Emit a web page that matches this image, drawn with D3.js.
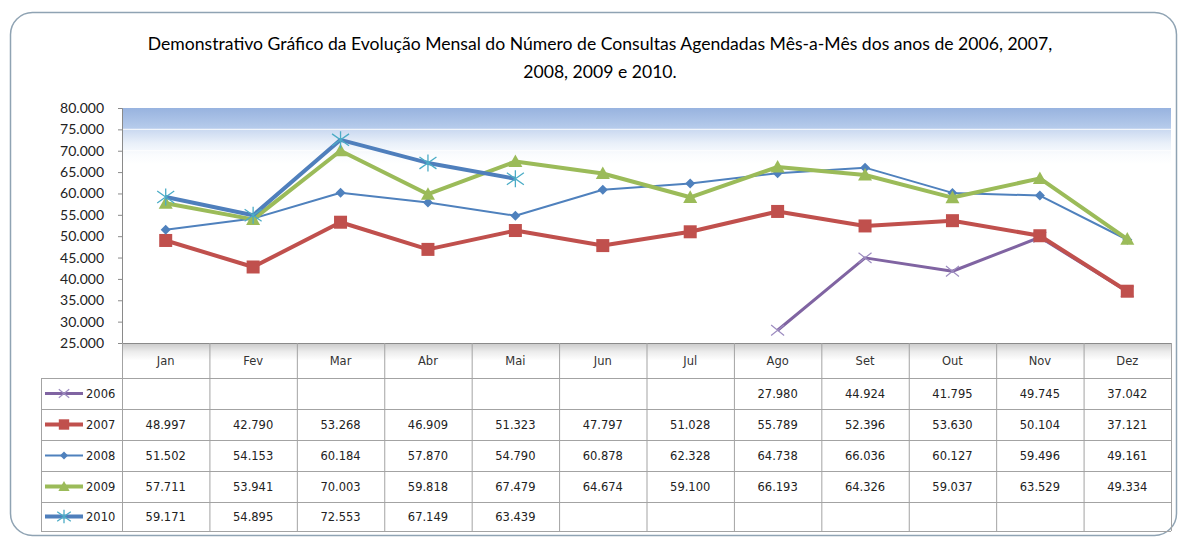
<!DOCTYPE html>
<html>
<head>
<meta charset="utf-8">
<script src="https://cdn.jsdelivr.net/npm/d3@7"></script>
<style>
  html,body{margin:0;padding:0;background:#fff;}
  svg{display:block;}
</style>
</head>
<body>
<div id="chart"></div>
<script>
// dados
const months = ['Jan','Fev','Mar','Abr','Mai','Jun','Jul','Ago','Set','Out','Nov','Dez'];
const years = ['2006','2007','2008','2009','2010'];
const v2006 = [null,null,null,null,null,null,null,27980,44924,41795,49745,37042];
const v2007 = [48997,42790,53268,46909,51323,47797,51028,55789,52396,53630,50104,37121];
const v2008 = [51502,54153,60184,57870,54790,60878,62328,64738,66036,60127,59496,49161];
const v2009 = [57711,53941,70003,59818,67479,64674,59100,66193,64326,59037,63529,49334];
const v2010 = [59171,54895,72553,67149,63439,null,null,null,null,null,null,null];
const yTicks = [25000,30000,35000,40000,45000,50000,55000,60000,65000,70000,75000,80000];
const titleLines = ['Demonstrativo Gráfico da Evolução Mensal do Número de Consultas Agendadas Mês-a-Mês dos anos de 2006, 2007,',
                    '2008, 2009 e 2010.'];

const W=1181, H=538;
const pt = d3.formatLocale({decimal:',',thousands:'.',grouping:[3],currency:['R$','']}).format(',d');

// estilos das séries
const series = [
  {name:'2006', vals:v2006, line:'#8064a2', lw:3,   mk:'x',   mc:'#9d8cc0', ms:13},
  {name:'2007', vals:v2007, line:'#c0504d', lw:4,   mk:'sq',  mc:'#c0504d', ms:13},
  {name:'2008', vals:v2008, line:'#4f81bd', lw:2,   mk:'dia', mc:'#4f81bd', ms:10},
  {name:'2009', vals:v2009, line:'#9bbb59', lw:4,   mk:'tri', mc:'#9bbb59', ms:14},
  {name:'2010', vals:v2010, line:'#4f7fbc', lw:4,   mk:'star',mc:'#4bacc6', ms:17}
];

const plot = {l:122, r:1171, t:108, b:343};
const rowH = [343,378,409,440,471,502,531];
const legL = 41;

const x = d3.scaleBand().domain(months).range([plot.l, plot.r]);
const y = d3.scaleLinear().domain([25000,80000]).range([plot.b, plot.t]);

const svg = d3.select('#chart').append('svg').attr('width',W).attr('height',H);
const defs = svg.append('defs');

const bg = defs.append('linearGradient').attr('id','bg').attr('x1',0).attr('y1',0).attr('x2',0).attr('y2',1);
[[0,'#98b3df'],[0.085,'#b6cbeb'],[0.09,'#c9d8f0'],[0.15,'#e9f0f9'],[0.2,'#fafcfe'],[0.24,'#ffffff'],[1,'#ffffff']]
  .forEach(s=>bg.append('stop').attr('offset',s[0]).attr('stop-color',s[1]));
const hd = defs.append('linearGradient').attr('id','hd').attr('x1',0).attr('y1',0).attr('x2',0).attr('y2',1);
[[0,'#c9c9c9'],[0.25,'#ececec'],[0.5,'#ffffff'],[1,'#ffffff']]
  .forEach(s=>hd.append('stop').attr('offset',s[0]).attr('stop-color',s[1]));

// moldura
svg.append('rect').attr('x',10.5).attr('y',12.5).attr('width',1166).attr('height',523).attr('rx',22)
  .attr('fill','#fff').attr('stroke','#8fa3b3').attr('stroke-width',1.5);

// título
svg.append('g').selectAll('text').data(titleLines).join('text')
  .attr('x',600).attr('y',(d,i)=>50+i*28).attr('text-anchor','middle')
  .style('font-family','Lato, "Open Sans", sans-serif').style('font-size','17.6px').attr('fill','#000')
  .text(d=>d);

// fundo da área de plotagem
svg.append('rect').attr('x',plot.l).attr('y',plot.t).attr('width',plot.r-plot.l).attr('height',plot.b-plot.t)
  .attr('fill','url(#bg)');
svg.append('g').selectAll('line').data(yTicks.slice(1,-1)).join('line')
  .attr('x1',plot.l).attr('x2',plot.r).attr('y1',d=>y(d)).attr('y2',d=>y(d))
  .attr('stroke','#fff').attr('stroke-width',1).attr('stroke-opacity',0.85);

// eixo y
const yAxis = svg.append('g').attr('transform',`translate(${plot.l},0)`)
  .call(d3.axisLeft(y).tickValues(yTicks).tickFormat(pt).tickSize(4).tickPadding(14));
yAxis.select('.domain').attr('stroke','#8a8a8a');
yAxis.selectAll('.tick line').attr('stroke','#8a8a8a');
yAxis.selectAll('text').style('font-family','Lato, sans-serif').style('font-size','14px').attr('fill','#222');

// tabela
const tbl = svg.append('g');
tbl.append('rect').attr('x',plot.l).attr('y',rowH[0]).attr('width',plot.r-plot.l).attr('height',rowH[1]-rowH[0])
  .attr('fill','url(#hd)');
const gridC = '#a3a3a3';
// linhas horizontais
tbl.selectAll('line.h').data(rowH).join('line').attr('class','h')
  .attr('x1',(d,i)=>i<1?plot.l:legL).attr('x2',plot.r).attr('y1',d=>d+0.5).attr('y2',d=>d+0.5)
  .attr('stroke',(d,i)=>i===0?'#8a8a8a':gridC).attr('stroke-width',1);
// linhas verticais
const vx = months.map(m=>x(m)).concat([plot.r]);
tbl.selectAll('line.v').data(vx).join('line').attr('class','v')
  .attr('x1',d=>d+0.5).attr('x2',d=>d+0.5).attr('y1',rowH[0]).attr('y2',rowH[6])
  .attr('stroke',gridC);
tbl.append('line').attr('x1',legL+0.5).attr('x2',legL+0.5).attr('y1',rowH[1]).attr('y2',rowH[6]).attr('stroke',gridC);

const cellFont = 'DejaVu Sans, Verdana, sans-serif';
tbl.selectAll('text.m').data(months).join('text').attr('class','m')
  .attr('x',d=>x(d)+x.bandwidth()/2).attr('y',(rowH[0]+rowH[1])/2+4).attr('text-anchor','middle')
  .style('font-family',cellFont).style('font-size','11.5px').attr('fill','#333').text(d=>d);

series.forEach((s,si)=>{
  const cy = (rowH[si+1]+rowH[si+2])/2 + 4;
  tbl.append('g').selectAll('text').data(s.vals).join('text')
    .attr('x',(d,i)=>x(months[i])+x.bandwidth()/2).attr('y',cy).attr('text-anchor','middle')
    .style('font-family',cellFont).style('font-size','11.5px').attr('fill','#222')
    .text(d=>d==null?'':pt(d));
  tbl.append('text').attr('x',86).attr('y',cy).style('font-family',cellFont).style('font-size','11.5px')
    .attr('fill','#222').text(s.name);
});

// marcadores
function marker(g, s, cx, cy, scale){
  const r = s.ms/2*scale;
  if(s.mk==='sq'){
    g.append('rect').attr('x',cx-r).attr('y',cy-r).attr('width',2*r).attr('height',2*r).attr('fill',s.mc);
  } else if(s.mk==='dia'){
    g.append('path').attr('d',`M${cx},${cy-r}L${cx+r},${cy}L${cx},${cy+r}L${cx-r},${cy}Z`).attr('fill',s.mc);
  } else if(s.mk==='tri'){
    g.append('path').attr('d',`M${cx},${cy-r}L${cx+r},${cy+r*0.8}L${cx-r},${cy+r*0.8}Z`).attr('fill',s.mc);
  } else if(s.mk==='x'){
    g.append('path').attr('d',`M${cx-r},${cy-r*0.8}L${cx+r},${cy+r*0.8}M${cx-r},${cy+r*0.8}L${cx+r},${cy-r*0.8}`)
      .attr('stroke',s.mc).attr('stroke-width',1.2);
  } else if(s.mk==='star'){
    g.append('path').attr('d',`M${cx-r},${cy-r*0.7}L${cx+r},${cy+r*0.7}M${cx-r},${cy+r*0.7}L${cx+r},${cy-r*0.7}M${cx},${cy-r}L${cx},${cy+r}`)
      .attr('stroke',s.mc).attr('stroke-width',1.3);
  }
}

// séries
const lines = svg.append('g');
series.forEach(s=>{
  const pts = s.vals.map((v,i)=>({m:months[i],v})).filter(d=>d.v!=null);
  const g = lines.append('g');
  g.append('path').datum(pts)
    .attr('d',d3.line().x(d=>x(d.m)+x.bandwidth()/2).y(d=>y(d.v)))
    .attr('fill','none').attr('stroke',s.line).attr('stroke-width',s.lw).attr('stroke-linejoin','round');
  pts.forEach(d=>marker(g, s, x(d.m)+x.bandwidth()/2, y(d.v), 1));
});

// legenda na tabela
series.forEach((s,si)=>{
  const cy = (rowH[si+1]+rowH[si+2])/2;
  const g = tbl.append('g');
  g.append('line').attr('x1',45).attr('x2',83).attr('y1',cy).attr('y2',cy)
    .attr('stroke',s.line).attr('stroke-width',s.lw);
  marker(g, s, 64, cy, 0.8);
});
</script>
</body>
</html>
